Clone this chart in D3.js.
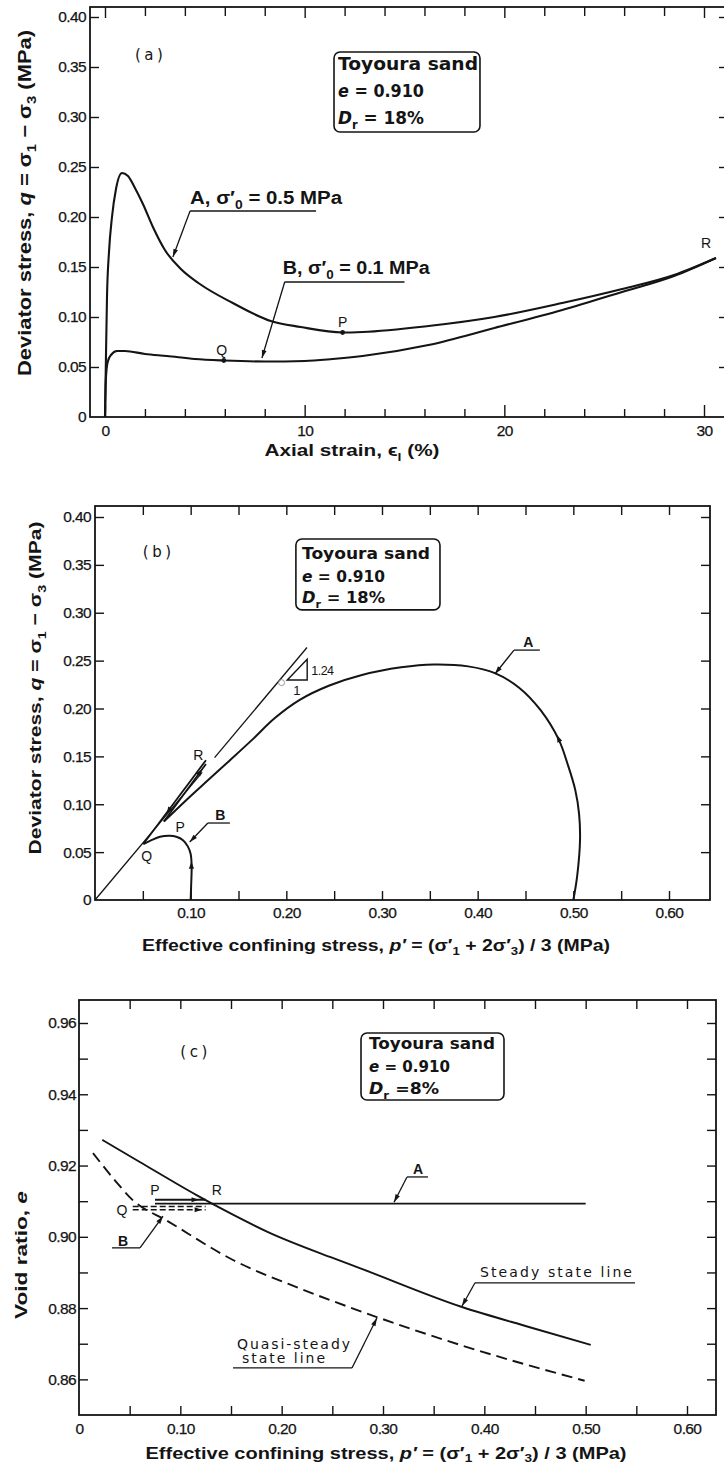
<!DOCTYPE html>
<html>
<head>
<meta charset="utf-8">
<script src="https://cdn.jsdelivr.net/npm/d3@7"></script>
<style>
  body { margin: 0; background: #fff; }
  svg { display: block; }
</style>
</head>
<body>
<div id="app"></div>
<script>
// ---- (a) deviator stress vs axial strain ----
const strainA = [0, 0.04, 0.1, 0.2, 0.35, 0.55, 0.85, 1.15, 1.5, 1.9, 2.4, 3.0, 3.8, 4.75, 6.4, 8.3, 9.8, 11.9, 12.9, 16.2, 19.5, 22.9, 25.9, 28.5, 30.6]
const devA    = [0, 0.05, 0.12, 0.165, 0.2, 0.228, 0.244, 0.241, 0.229, 0.213, 0.19, 0.167, 0.148, 0.133, 0.114, 0.096, 0.09, 0.0845, 0.085, 0.091, 0.100, 0.114, 0.128, 0.142, 0.159]
const strainB = [0, 0.03, 0.08, 0.15, 0.3, 0.6, 1.0, 2.0, 3.1, 4.5, 5.95, 8.0, 10.0, 11.4, 12.9, 16.2, 19.5, 22.9, 25.9, 28.5, 30.6]
const devB    = [0, 0.03, 0.048, 0.056, 0.062, 0.066, 0.066, 0.063, 0.061, 0.058, 0.0565, 0.0555, 0.056, 0.058, 0.061, 0.072, 0.089, 0.107, 0.125, 0.141, 0.159]
const strainTicks = [0, 2, 4, 6, 8, 10, 12, 14, 16, 18, 20, 22, 24, 26, 28, 30]
const strainMajor = [0, 10, 20, 30]
const devTicks = [0, 0.05, 0.10, 0.15, 0.20, 0.25, 0.30, 0.35, 0.40]
const devLabels = ['0', '0.05', '0.10', '0.15', '0.20', '0.25', '0.30', '0.35', '0.40']

// ---- (b) stress paths ----
const pathAp = [0.500, 0.504, 0.507, 0.506, 0.502, 0.494, 0.485, 0.466, 0.443, 0.418, 0.390, 0.354, 0.320, 0.279, 0.245, 0.214, 0.188, 0.165, 0.140, 0.118, 0.095, 0.072]
const pathAq = [0, 0.025, 0.063, 0.09, 0.115, 0.142, 0.167, 0.198, 0.222, 0.237, 0.244, 0.246, 0.243, 0.235, 0.224, 0.209, 0.190, 0.168, 0.145, 0.125, 0.104, 0.082]
const returnAp = [0.072, 0.116]
const returnAq = [0.082, 0.142]
const pathBp = [0.100, 0.1005, 0.101, 0.100, 0.097, 0.092, 0.085, 0.078, 0.068, 0.058, 0.0505]
const pathBq = [0, 0.015, 0.035, 0.048, 0.056, 0.0625, 0.066, 0.067, 0.066, 0.062, 0.0585]
const returnBp = [0.0505, 0.116]
const returnBq = [0.0585, 0.146]
const cslSegments = [[0, 0.112], [0.125, 0.2216]]
const cslSlope = 1.19
const pTicks = [0.05, 0.10, 0.15, 0.20, 0.25, 0.30, 0.35, 0.40, 0.45, 0.50, 0.55, 0.60]
const pLabelTicks = [0.10, 0.20, 0.30, 0.40, 0.50, 0.60]
const pLabels = ['0.10', '0.20', '0.30', '0.40', '0.50', '0.60']

// ---- (c) void ratio vs p' ----
const steadyP = [0.023, 0.06, 0.116, 0.15, 0.186, 0.251, 0.279, 0.378, 0.444, 0.505]
const steadyE = [0.9272, 0.921, 0.9117, 0.9065, 0.9014, 0.894, 0.891, 0.8803, 0.8747, 0.8697]
const quasiP = [0.0138, 0.035, 0.053, 0.087, 0.152, 0.218, 0.279, 0.378, 0.499]
const quasiE = [0.9235, 0.916, 0.9103, 0.9045, 0.8935, 0.8855, 0.879, 0.8695, 0.8596]
const testAp = [0.075, 0.50], testAe = [0.9093, 0.9093]
const testAretP = [0.075, 0.125], testAretE = [0.9104, 0.9104]
const testBp = [0.053, 0.125], testBe1 = [0.9085, 0.9085], testBe2 = [0.9076, 0.9076]
const eTicks = [0.86, 0.87, 0.88, 0.89, 0.90, 0.91, 0.92, 0.93, 0.94, 0.95, 0.96]
const eLabelTicks = [0.86, 0.88, 0.90, 0.92, 0.94, 0.96]
const eLabels = ['0.86', '0.88', '0.90', '0.92', '0.94', '0.96']
const pcLabelTicks = [0, 0.10, 0.20, 0.30, 0.40, 0.50, 0.60]
const pcLabels = ['0', '0.10', '0.20', '0.30', '0.40', '0.50', '0.60']

const INK = '#141414'
const SANS = '"Liberation Sans", Arial, sans-serif'
const WIDE = '"DejaVu Sans", sans-serif'

const svg = d3.select('#app').append('svg')
    .attr('width', 724).attr('height', 1468)
    .attr('viewBox', [0, 0, 724, 1468])

// helpers
function rich(text, parts, fs, subShift) {
    let cur = 0
    parts.forEach(([t, s = '']) => {
        const ts = text.append('tspan').text(t)
        let target = 0
        if (s.includes('sub')) target = fs * subShift
        if (s.includes('sup')) target = -fs * 0.35
        if (target !== cur) { ts.attr('dy', target - cur); cur = target }
        if (s.includes('sub') || s.includes('sup')) ts.attr('font-size', fs * 0.68)
        if (s.startsWith('i')) ts.attr('font-style', 'italic')
    })
    return text
}

function label(g, x, y, parts, o = {}) {
    const fs = o.fs || 14
    const t = g.append('text')
        .attr('x', x).attr('y', y)
        .attr('font-family', o.family || SANS)
        .attr('font-size', fs)
        .attr('font-weight', o.weight || 'normal')
        .attr('text-anchor', o.anchor || 'start')
        .attr('fill', INK)
    if (o.letter) t.attr('letter-spacing', o.letter)
    if (o.rotate) t.attr('transform', `rotate(-90,${x},${y})`)
    rich(t, typeof parts === 'string' ? [[parts]] : parts, fs, o.sub || 0.3)
    if (o.len) t.attr('textLength', o.len).attr('lengthAdjust', o.adjust || 'spacingAndGlyphs')
    return t
}

function ticks(g, scale, orient, vals, pos, len) {
    const maker = { bottom: d3.axisBottom, top: d3.axisTop, left: d3.axisLeft, right: d3.axisRight }[orient]
    const ax = maker(scale).tickValues(vals).tickSize(-len).tickFormat('')
    const gg = g.append('g')
        .attr('transform', orient === 'bottom' || orient === 'top' ? `translate(0,${pos})` : `translate(${pos},0)`)
        .call(ax)
    gg.select('.domain').remove()
    gg.selectAll('line').attr('stroke', INK).attr('stroke-width', 1.4)
}

function tickLabels(g, scale, orient, vals, texts, pos, pad, fs) {
    const maker = orient === 'bottom' ? d3.axisBottom : d3.axisLeft
    const ax = maker(scale).tickValues(vals).tickFormat((d, i) => texts[i]).tickSize(0).tickPadding(pad)
    const gg = g.append('g')
        .attr('transform', orient === 'bottom' ? `translate(0,${pos})` : `translate(${pos},0)`)
        .call(ax)
    gg.select('.domain').remove()
    gg.attr('font-family', SANS).attr('font-size', fs)
    gg.selectAll('text').attr('fill', INK).attr('letter-spacing', -0.6)
        .attr('stroke', INK).attr('stroke-width', 0.25)
}

function frame(g, l, r, t, b) {
    g.append('rect')
        .attr('x', l).attr('y', t).attr('width', r - l).attr('height', b - t)
        .attr('fill', 'none').attr('stroke', INK).attr('stroke-width', 1.8)
}

function arrowHead(g, x0, y0, x1, y1, size = 7, w = 2.6) {
    const a = Math.atan2(y1 - y0, x1 - x0)
    const bx = x1 - size * Math.cos(a), by = y1 - size * Math.sin(a)
    const pts = [[x1, y1],
        [bx + w * Math.sin(a), by - w * Math.cos(a)],
        [bx - w * Math.sin(a), by + w * Math.cos(a)]]
    g.append('path').attr('d', 'M' + pts.join('L') + 'Z').attr('fill', INK)
}

function leader(g, x, y, under, tip, from = 0) {
    const [u0, u1] = under
    g.append('line')
        .attr('x1', x(u0[0])).attr('y1', y(u0[1])).attr('x2', x(u1[0])).attr('y2', y(u1[1]))
        .attr('stroke', INK).attr('stroke-width', 1.3)
    const s = under[from]
    g.append('line')
        .attr('x1', x(s[0])).attr('y1', y(s[1])).attr('x2', x(tip[0])).attr('y2', y(tip[1]))
        .attr('stroke', INK).attr('stroke-width', 1.3)
    arrowHead(g, x(s[0]), y(s[1]), x(tip[0]), y(tip[1]), 8, 2.4)
}

function curve(g, xs, ys, x, y, kind, o = {}) {
    const line = d3.line().x(d => x(d[0])).y(d => y(d[1])).curve(kind)
    const p = g.append('path')
        .attr('d', line(d3.zip(xs, ys)))
        .attr('fill', 'none').attr('stroke', INK)
        .attr('stroke-width', o.w || 2).attr('stroke-linejoin', 'round')
    if (o.dash) p.attr('stroke-dasharray', o.dash)
    return p
}

function infoBox(g, x, y, box, lines, o) {
    g.append('rect')
        .attr('x', x(box[0])).attr('y', y(box[2]))
        .attr('width', x(box[1]) - x(box[0])).attr('height', y(box[3]) - y(box[2]))
        .attr('rx', 6).attr('fill', 'none').attr('stroke', INK).attr('stroke-width', 1.6)
    lines.forEach(ln => label(g, x(o.tx), y(ln.at), ln.parts,
        { fs: o.fs, weight: 'bold', family: WIDE, len: ln.len }))
}

const boxLines = (e, dr, lens) => [
    { at: e[0], parts: [['Toyoura sand']], len: lens[0] },
    { at: e[1], parts: [['e', 'i'], [' = 0.910']], len: lens[1] },
    { at: e[2], parts: [['D', 'i'], ['r', 'sub'], [dr]], len: lens[2] }
]

// ======================= (a) =======================
{
    const g = svg.append('g')
    const x = d3.scaleLinear().domain([0, 30]).range([105, 704])
    const y = d3.scaleLinear().domain([0, 0.4]).range([417, 17])
    const L = 90, R = 727, T = 7, B = y(0)

    frame(g, L, R, T, B)
    ticks(g, x, 'bottom', strainTicks.filter(v => !strainMajor.includes(v)), B, 8)
    ticks(g, x, 'bottom', strainMajor, B, 12)
    ticks(g, x, 'top', strainTicks.filter(v => !strainMajor.includes(v)), T, 9)
    ticks(g, x, 'top', strainMajor, T, 11)
    ticks(g, y, 'left', devTicks.slice(1), L, 9)
    ticks(g, y, 'right', devTicks.slice(1), R, 8)
    tickLabels(g, x, 'bottom', strainMajor, ['0', '10', '20', '30'], B, 8, 15.5)
    tickLabels(g, y, 'left', devTicks, devLabels, L, 4, 15.5)

    curve(g, strainA, devA, x, y, d3.curveMonotoneX, { w: 2.1 })
    curve(g, strainB, devB, x, y, d3.curveMonotoneX, { w: 2.1 })

    // points P and Q
    ;[[11.9, 0.0845], [5.95, 0.0565]].forEach(([a, b]) =>
        g.append('circle').attr('cx', x(a)).attr('cy', y(b)).attr('r', 2.4).attr('fill', INK))
    label(g, x(11.9), y(0.090), 'P', { anchor: 'middle', fs: 14 })
    label(g, x(5.85), y(0.062), 'Q', { anchor: 'middle', fs: 14 })
    label(g, x(30.1), y(0.169), 'R', { anchor: 'middle', fs: 14 })

    leader(g, x, y, [[4.26, 0.206], [10.57, 0.206]], [3.4, 0.160])
    label(g, x(4.26), y(0.213), [['A, σ′'], ['0', 'sub'], [' = 0.5 MPa']], { fs: 18, weight: 'bold', len: 152 })
    leader(g, x, y, [[9.0, 0.135], [15.0, 0.135]], [7.86, 0.059])
    label(g, x(8.9), y(0.143), [['B, σ′'], ['0', 'sub'], [' = 0.1 MPa']], { fs: 18, weight: 'bold', len: 147 })

    label(g, x(1.5), y(0.357), '(a)', { family: WIDE, fs: 15, letter: 3.5 })
    infoBox(g, x, y, [11.47, 18.78, 0.365, 0.285],
        boxLines([0.3475, 0.3205, 0.2935], ' = 18%', [140, 86, 86]), { tx: 11.67, fs: 18 })

    label(g, 352, 456, [['Axial strain, ϵ'], ['l', 'sub'], [' (%)']], { anchor: 'middle', fs: 17, weight: 'bold', len: 175 })
    label(g, 31, 203, [['Deviator stress, '], ['q', 'i'], [' = σ'], ['1', 'sub'], [' − σ'], ['3', 'sub'], [' (MPa)']],
        { anchor: 'middle', fs: 18, weight: 'bold', rotate: true, len: 346 })
}

// ======================= (b) =======================
{
    const g = svg.append('g')
    const x = d3.scaleLinear().domain([0, 0.6]).range([95, 669])
    const y = d3.scaleLinear().domain([0, 0.4]).range([900, 517])
    const L = 95, R = 710, T = 506, B = y(0)

    frame(g, L, R, T, B)
    ticks(g, x, 'bottom', pTicks, B, 9)
    ticks(g, x, 'top', pTicks, T, 9)
    ticks(g, y, 'left', devTicks.slice(1), L, 9)
    ticks(g, y, 'right', devTicks.slice(1), R, 9)
    tickLabels(g, x, 'bottom', pLabelTicks, pLabels, B, 7, 15.5)
    tickLabels(g, y, 'left', devTicks, devLabels, L - 1, 3, 15.5)

    // straight line through origin
    cslSegments.forEach(([a, b]) =>
        curve(g, [a, b], [a * cslSlope, b * cslSlope], x, y, d3.curveLinear, { w: 1.3 }))
    // slope triangle
    const tri = [[0.2010, 0.2298], [0.2218, 0.2515], [0.2218, 0.2298]]
    g.append('path').attr('d', 'M' + tri.map(d => [x(d[0]), y(d[1])]).join('L') + 'Z')
        .attr('fill', 'none').attr('stroke', INK).attr('stroke-width', 1.4)
    label(g, x(0.226), y(0.235), '1.24', { fs: 12.5, letter: -0.5 })
    label(g, x(0.211), y(0.214), '1', { fs: 13, anchor: 'middle' })
    g.append('circle').attr('cx', x(0.195)).attr('cy', y(0.227)).attr('r', 3)
        .attr('fill', 'none').attr('stroke', '#999').attr('stroke-width', 1)

    curve(g, pathAp, pathAq, x, y, d3.curveCatmullRom, { w: 2 })
    curve(g, returnAp, returnAq, x, y, d3.curveLinear, { w: 1.8 })
    curve(g, pathBp, pathBq, x, y, d3.curveCatmullRom, { w: 2 })
    curve(g, returnBp, returnBq, x, y, d3.curveLinear, { w: 1.8 })

    arrowHead(g, x(0.488), y(0.160), x(0.483), y(0.172))
    arrowHead(g, x(0.1008), y(0.026), x(0.1008), y(0.040))
    arrowHead(g, x(0.100), y(0.120), x(0.112), y(0.1365))
    arrowHead(g, x(0.085), y(0.106), x(0.075), y(0.090))

    label(g, x(0.108), y(0.146), 'R', { anchor: 'middle', fs: 14 })
    label(g, x(0.089), y(0.071), 'P', { anchor: 'middle', fs: 14 })
    label(g, x(0.054), y(0.041), 'Q', { anchor: 'middle', fs: 14 })

    leader(g, x, y, [[0.438, 0.261], [0.465, 0.261]], [0.418, 0.236])
    label(g, x(0.453), y(0.264), 'A', { anchor: 'middle', fs: 14, weight: 'bold' })
    leader(g, x, y, [[0.118, 0.0804], [0.141, 0.0804]], [0.099, 0.0605])
    label(g, x(0.131), y(0.0836), 'B', { anchor: 'middle', fs: 14, weight: 'bold' })

    label(g, x(0.050), y(0.358), '(b)', { family: WIDE, fs: 15, letter: 3.5 })
    infoBox(g, x, y, [0.210, 0.3606, 0.377, 0.303],
        boxLines([0.356, 0.332, 0.310], ' = 18%', [128, 83, 83]), { tx: 0.2164, fs: 16.5 })

    label(g, 376, 951, [['Effective confining stress, '], ['p′', 'i'], [' =  (σ′'], ['1', 'sub'], [' + 2σ′'], ['3', 'sub'], [') / 3 (MPa)']],
        { anchor: 'middle', fs: 17, weight: 'bold', len: 468, sub: 0.22 })
    label(g, 41, 688, [['Deviator stress, '], ['q', 'i'], [' = σ'], ['1', 'sub'], [' − σ'], ['3', 'sub'], [' (MPa)']],
        { anchor: 'middle', fs: 17, weight: 'bold', rotate: true, len: 333 })
}

// ======================= (c) =======================
{
    const g = svg.append('g')
    const x = d3.scaleLinear().domain([0, 0.6]).range([79, 687])
    const y = d3.scaleLinear().domain([0.85, 0.96]).range([1415, 1023])
    const L = 79, R = 716, T = 1000, B = y(0.85)

    frame(g, L, R, T, B)
    ticks(g, x, 'bottom', pTicks, B, 9)
    ticks(g, x, 'top', pTicks, T, 9)
    ticks(g, y, 'left', eTicks, L, 9)
    ticks(g, y, 'right', eTicks, R, 9)
    tickLabels(g, x, 'bottom', pcLabelTicks, pcLabels, B, 8, 15.5)
    tickLabels(g, y, 'left', eLabelTicks, eLabels, L, 3, 15.5)

    curve(g, steadyP, steadyE, x, y, d3.curveMonotoneX, { w: 1.9 })
    curve(g, quasiP, quasiE, x, y, d3.curveMonotoneX, { w: 1.9, dash: '11,6' })
    curve(g, testAp, testAe, x, y, d3.curveLinear, { w: 1.8 })
    curve(g, testAretP, testAretE, x, y, d3.curveLinear, { w: 1.8 })
    curve(g, testBp, testBe1, x, y, d3.curveLinear, { w: 1.6, dash: '6,3' })
    curve(g, testBp, testBe2, x, y, d3.curveLinear, { w: 1.6, dash: '6,3' })
    arrowHead(g, x(0.10), y(0.9104), x(0.118), y(0.9104))
    arrowHead(g, x(0.10), y(0.9076), x(0.121), y(0.9076))

    label(g, x(0.075), y(0.9117), 'P', { anchor: 'middle', fs: 14 })
    label(g, x(0.136), y(0.9117), 'R', { anchor: 'middle', fs: 14 })
    label(g, x(0.0424), y(0.9061), 'Q', { anchor: 'middle', fs: 14 })

    leader(g, x, y, [[0.3237, 0.9168], [0.3444, 0.9168]], [0.3109, 0.9097])
    label(g, x(0.3345), y(0.9176), 'A', { anchor: 'middle', fs: 14, weight: 'bold' })
    leader(g, x, y, [[0.0326, 0.8969], [0.0602, 0.8969]], [0.0829, 0.9058], 1)
    label(g, x(0.0434), y(0.8975), 'B', { anchor: 'middle', fs: 14, weight: 'bold' })
    leader(g, x, y, [[0.3908, 0.8871], [0.5487, 0.8871]], [0.378, 0.8806])
    label(g, x(0.3957), y(0.8886), 'Steady state line', { family: WIDE, fs: 14, len: 152, adjust: 'spacing' })
    leader(g, x, y, [[0.152, 0.8632], [0.2694, 0.8632]], [0.294, 0.8772], 1)
    label(g, x(0.1559), y(0.8684), 'Quasi-steady', { family: WIDE, fs: 14, len: 113, adjust: 'spacing' })
    label(g, x(0.1609), y(0.8645), 'state line', { family: WIDE, fs: 14, len: 83, adjust: 'spacing' })

    label(g, x(0.100), y(0.9505), '(c)', { family: WIDE, fs: 15, letter: 3.5 })
    infoBox(g, x, y, [0.2783, 0.4194, 0.9572, 0.9384],
        boxLines([0.9527, 0.9463, 0.9401], ' =8%', [126, 81, 70]), { tx: 0.2862, fs: 16 })

    label(g, 386, 1459, [['Effective confining stress, '], ['p′', 'i'], [' =  (σ′'], ['1', 'sub'], [' + 2σ′'], ['3', 'sub'], [') / 3 (MPa)']],
        { anchor: 'middle', fs: 17, weight: 'bold', len: 481, sub: 0.18 })
    label(g, 27, 1255, [['Void ratio, '], ['e', 'i']],
        { anchor: 'middle', fs: 17, weight: 'bold', rotate: true, len: 128 })
}
</script>
</body>
</html>
